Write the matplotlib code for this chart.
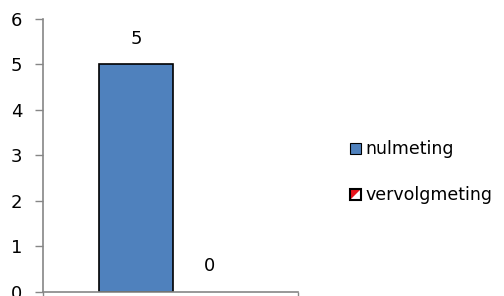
import matplotlib.pyplot as plt
from matplotlib.patches import Rectangle, Polygon
from matplotlib.legend_handler import HandlerBase

series = ["nulmeting", "vervolgmeting"]
values = [5, 0]
colors = ["#4F81BD", "#C0504D"]
yticks = [0, 1, 2, 3, 4, 5, 6]

plt.rcParams['font.family'] = ['DejaVu Sans']

fig = plt.figure(figsize=(5.04, 2.96), dpi=100)
ax = fig.add_axes([0.0853, 0.0135, 0.5059, 0.9225])

width = 0.29
offsets = [-width / 2, width / 2]
handles = []
for name, val, col, off in zip(series, values, colors, offsets):
    b = ax.bar(0 + off, val, width=width, color=col, edgecolor="black",
               linewidth=1.2 if val > 0 else 0, label=name)
    ax.bar_label(b, padding=12, fontsize=13)
    handles.append(b)


class SplitHandler(HandlerBase):
    # red upper-left triangle, white lower-right, black border
    def create_artists(self, legend, orig, x0, y0, w, h, fs, trans):
        s = min(w, h)
        x = x0 + (w - s) / 2
        tri = Polygon([[x, y0], [x, y0 + s], [x + s, y0 + s]], closed=True,
                      facecolor="#E8141B", edgecolor="none", transform=trans)
        box = Rectangle((x, y0), s, s, facecolor="none", edgecolor="black",
                        linewidth=1.5, transform=trans)
        return [tri, box]


class BoxHandler(HandlerBase):
    def create_artists(self, legend, orig, x0, y0, w, h, fs, trans):
        s = min(w, h)
        x = x0 + (w - s) / 2
        box = Rectangle((x, y0), s, s, facecolor=colors[0], edgecolor="black",
                        linewidth=0.8, transform=trans)
        return [box]


ax.legend(handles, series, handler_map={handles[0]: BoxHandler(), handles[1]: SplitHandler()},
          loc="center left", bbox_to_anchor=(1.175, 0.44), frameon=False,
          fontsize=12.5, handlelength=0.65, handleheight=0.65, handletextpad=0.25,
          labelspacing=1.6, borderaxespad=0)

ax.set_ylim(0, 6)
ax.set_yticks(yticks)
ax.set_xlim(-0.51, 0.49)
ax.set_xticks([-0.51, 0.49])
ax.set_xticklabels([])
ax.tick_params(axis="y", labelsize=13, color="#868686", length=6, width=1, pad=9)
ax.tick_params(axis="x", color="#868686", length=6, width=1, direction="out")
for s in ["top", "right"]:
    ax.spines[s].set_visible(False)
for s in ["left", "bottom"]:
    ax.spines[s].set_color("#868686")
    ax.spines[s].set_linewidth(1.2)

fig.savefig("out.png", dpi=100)
